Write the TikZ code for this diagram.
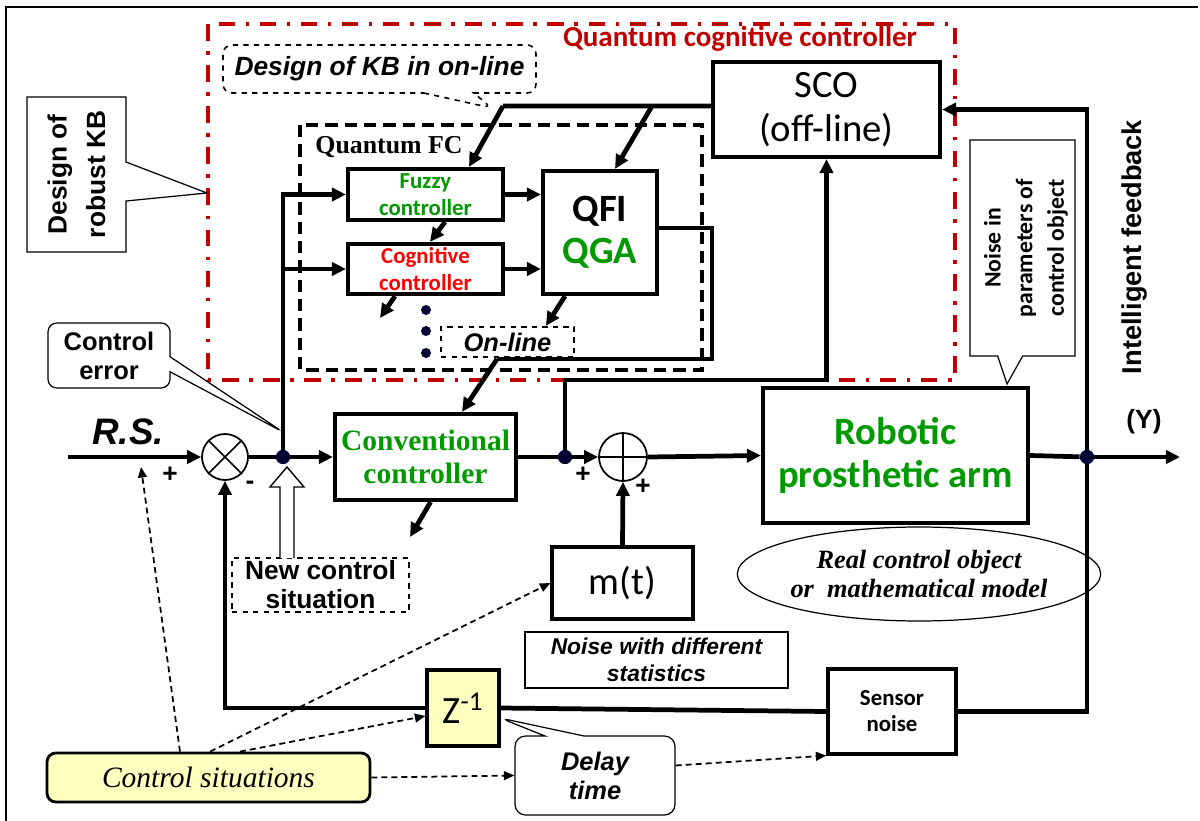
\documentclass[tikz,border=0pt]{standalone}
\usepackage{fontspec}
\setmainfont{Liberation Serif}
\newfontfamily\arialf{Liberation Sans}
\newfontfamily\calf{Carlito}
\usetikzlibrary{arrows.meta,shapes.geometric,shapes.callouts}
\definecolor{qred}{RGB}{192,0,0}
\definecolor{qgreen}{RGB}{0,153,0}
\definecolor{qyellow}{RGB}{255,255,192}
\definecolor{qnavy}{RGB}{0,0,51}
\newcommand{\setfs}[2]{\fontsize{#1}{#2}\selectfont}

\begin{document}
\begin{tikzpicture}[x=0.02cm,y=-0.02cm]
    \tikzstyle{blk}=[draw, line width=2.4pt, inner sep=0pt, align=center]
    \tikzstyle{note}=[draw, line width=0.7pt, inner sep=0pt, align=center]
    \tikzstyle{wire}=[line width=2.7pt]
    \tikzstyle{arr}=[line width=2.7pt, -{Triangle[length=8pt,width=7.5pt]}]
    \tikzstyle{darr}=[line width=1pt, dash pattern=on 3.4pt off 2.3pt, -{Triangle[length=6pt,width=5pt]}]
    \tikzstyle{jdot}=[circle, fill=qnavy, inner sep=0pt, minimum size=0.28cm]
    \tikzstyle{sign}=[font=\arialf\bfseries\setfs{15}{18}]

    \useasboundingbox (0,0) rectangle (1200,821);
    \draw[line width=0.8pt] (6,821) -- (6,7) -- (1198,7);

    \draw[qred, line width=2.3pt, dash pattern=on 9.4pt off 6pt on 2pt off 6pt] (208,24) rectangle (955,380);
    \draw[line width=2pt, dash pattern=on 7pt off 4pt] (300,125) rectangle (702,370);
    \node[text=qred, font=\calf\bfseries\setfs{16.5}{19}] (qcc) at (740,39) {Quantum cognitive controller};
    \node[font=\bfseries\setfs{14.7}{17}] (qfc) at (389,147) {Quantum FC};

    \node[blk, minimum width=3.1cm, minimum height=1.02cm, text=qgreen, font=\calf\bfseries\setfs{13}{15}] (fuzzy) at (425.5,194.5) {Fuzzy\\controller};
    \node[blk, minimum width=3.1cm, minimum height=1cm, text=red, font=\calf\bfseries\setfs{13}{15}] (cog) at (425.5,269) {Cognitive\\controller};
    \node[blk, minimum width=2.28cm, minimum height=2.46cm, font=\calf\bfseries\setfs{22}{24}] (qfi) at (600,232.5) {QFI\\\textcolor{qgreen}{QGA}};
    \node[blk, minimum width=4.54cm, minimum height=1.9cm, font=\calf\setfs{22}{25}] (sco) at (826.5,109.5) {SCO\\(off-line)};
    \node[draw, dashed, line width=1pt, minimum width=2.66cm, minimum height=0.56cm, font=\arialf\bfseries\itshape\setfs{14.5}{17}] (online) at (507.5,342) {On-line};
    \foreach \y in {310,331,353} \fill[qnavy] (426,\y) circle (0.1cm);

    \node[blk, minimum width=3.62cm, minimum height=1.72cm, text=qgreen, font=\bfseries\setfs{16.8}{19}] (conv) at (425.5,457) {Conventional\\controller};
    \node[blk, minimum width=5.3cm, minimum height=2.7cm, text=qgreen, font=\calf\bfseries\setfs{22}{24.5}] (arm) at (895.5,455.5) {Robotic\\prosthetic arm};
    \node[blk, line width=1.8pt, minimum width=2.82cm, minimum height=1.44cm, font=\calf\setfs{22}{25}] (mt) at (622.5,583) {m(t)};
    \node[note, minimum width=5.26cm, minimum height=1.12cm, font=\arialf\bfseries\itshape\setfs{13}{15}] (noisestat) at (656.5,660) {Noise with different\\statistics};
    \node[blk, line width=1.8pt, fill=qyellow, minimum width=1.44cm, minimum height=1.52cm, font=\calf\setfs{22}{25}] (zinv) at (463,708) {Z\textsuperscript{-1}};
    \node[blk, line width=1.8pt, minimum width=2.56cm, minimum height=1.7cm, font=\calf\bfseries\setfs{13}{14.7}] (sensor) at (892,711.5) {Sensor\\noise};
    \node[ellipse, draw, line width=0.7pt, minimum width=6.06cm, minimum height=1.88cm, inner sep=0pt, align=center, font=\bfseries\itshape\setfs{15}{17}] (objnote) at (919,574) {Real control object\\or \ mathematical model};

    \node[circle, draw, line width=1pt, minimum size=0.92cm] (mul) at (225,457) {};
    \draw[line width=1pt] (mul.north west) -- (mul.south east) (mul.north east) -- (mul.south west);
    \node[circle, draw, line width=1pt, minimum size=0.96cm] (sum) at (623,457) {};
    \draw[line width=1pt] (sum.north) -- (sum.south) (sum.west) -- (sum.east);
    \node[jdot] (jerr) at (283,457) {};
    \node[jdot] (jctl) at (565,457) {};
    \node[jdot] (jout) at (1087,457) {};

    \coordinate (rsin) at (68,457);
    \coordinate (yout) at (1180,457);
    \coordinate (qo1) at (712,359);
    \coordinate (qo2) at (497,359);
    \coordinate (so1) at (503,106);
    \coordinate (so2) at (652,106);
    \coordinate (rt) at (565,380);
    \coordinate (cogend) at (380,318);
    \coordinate (convend) at (410,537);
    \coordinate (rsmark) at (141,467);

    \draw[arr] (rsin) -- (mul.west);
    \draw[wire] (mul.east) -- (jerr);
    \draw[arr] (jerr) -- (conv.west);
    \draw[arr] (jerr) |- (fuzzy.west);
    \draw[arr] (jerr |- cog.west) -- (cog.west);
    \draw[arr] (fuzzy.east) -- (fuzzy.east -| qfi.west);
    \draw[arr] (cog.east) -- (cog.east -| qfi.west);
    \draw[arr] ([xshift=0.39cm]fuzzy.south) -- ([xshift=0.09cm]cog.north);
    \draw[arr] ([xshift=-0.61cm]cog.south) -- (cogend);
    \draw[arr] ([xshift=-0.7cm]qfi.south) -- ([xshift=-0.58cm]online.north east);
    \draw[wire] ([yshift=0.09cm]qfi.east) -| (qo1) -- (qo2);
    \draw[arr] (qo2) -- ([xshift=0.73cm]conv.north);
    \draw[wire] ([yshift=0.07cm]sco.west) -- (so1);
    \draw[arr] (so1) -- ([xshift=0.87cm]fuzzy.north);
    \draw[arr] (so2) -- ([xshift=0.3cm]qfi.north);
    \draw[wire] (conv.east) -- (jctl);
    \draw[arr] (jctl) -- (sum.west);
    \draw[arr] (jctl) -- (rt) -| (sco.south);
    \draw[arr] ([xshift=0.1cm]conv.south) -- (convend);
    \draw[arr] (sum.east) -- (arm.west);
    \draw[arr] (mt.north) -- (sum.south);
    \draw[wire] (arm.east) -- (jout);
    \draw[arr] (jout) -- (yout);
    \draw[arr] (jout) |- (sco.east);
    \draw[wire] (jout) |- (sensor.east);
    \draw[wire] (sensor.west) -- (zinv.east);
    \draw[arr] (zinv.west) -| (mul.south);
    \node[jdot] at (jerr) {};
    \node[jdot] at (jctl) {};
    \node[jdot] at (jout) {};

    \node[draw, dashed, line width=1pt, minimum width=3.54cm, minimum height=1.08cm, inner sep=0pt, align=center, font=\arialf\bfseries\setfs{15}{16.5}] (newsit) at (320.5,585) {New control\\situation};
    \draw[line width=0.8pt, fill=white] (280,558) -- (280,487) -- (270,487) -- (287,467) -- (304,487) -- (294,487) -- (294,558);

    \node[rectangle callout, draw, line width=0.7pt, rounded corners=5pt, minimum width=2.44cm, minimum height=1.3cm, inner sep=0pt, align=center, callout absolute pointer={(283,432)}, callout pointer width=0.3cm, font=\arialf\bfseries\setfs{14.5}{16.5}] (ctrlerr) at (109,355.5) {Control\\error};
    \node[rectangle callout, draw, line width=0.7pt, minimum width=1.98cm, minimum height=3.1cm, callout absolute pointer={(207,193)}, callout pointer width=0.78cm] (robust) at (76.5,174.5) {};
    \node[rotate=90, align=center, font=\arialf\bfseries\setfs{15}{22}] at (robust.center) {Design of\\robust KB};
    \node[rectangle callout, draw, line width=0.7pt, minimum width=2.1cm, minimum height=4.32cm, callout absolute pointer={(1007,384)}, callout pointer width=0.5cm] (noisepar) at (1022.5,248) {};
    \node[rotate=90, align=center, font=\calf\bfseries\setfs{13.5}{18}] at ([xshift=0.07cm]noisepar.center) {Noise in\\parameters of\\control object};
    \node[rectangle callout, draw, dashed, line width=0.9pt, rounded corners=5pt, minimum width=6.26cm, minimum height=0.96cm, inner sep=0pt, callout absolute pointer={(492,108)}, callout pointer width=1cm, font=\arialf\bfseries\itshape\setfs{15}{17}] (kbonline) at (379.5,69) {Design of KB in on-line};
    \node[rectangle callout, draw, line width=0.7pt, rounded corners=6pt, minimum width=3.2cm, minimum height=1.58cm, inner sep=0pt, align=center, callout absolute pointer={(500,718)}, callout pointer width=0.78cm, font=\arialf\bfseries\itshape\setfs{14.5}{16.4}] (delay) at (595,775.5) {Delay\\time};
    \node[draw, line width=1.6pt, rounded corners=5pt, fill=qyellow, minimum width=6.46cm, minimum height=0.98cm, font=\itshape\setfs{16.8}{19}] (ctrlsit) at (208.5,777.5) {Control situations};

    \draw[darr] ([xshift=-0.57cm]ctrlsit.north) -- (rsmark);
    \draw[darr] ([xshift=0.03cm]ctrlsit.north) -- (mt.west);
    \draw[darr] ([xshift=0.63cm]ctrlsit.north) -- ([yshift=-0.16cm]zinv.west);
    \draw[darr] (ctrlsit.east) -- (delay.west);
    \draw[darr] ([yshift=0.2cm]delay.east) -- (sensor.south west);

    \node[font=\arialf\bfseries\itshape\setfs{21}{24}] (rs) at (128,432) {R.S.};
    \node[font=\arialf\bfseries\setfs{15}{18}] (ylab) at (1144,422) {(Y)};
    \node[rotate=90, font=\arialf\bfseries\setfs{15.5}{18}] (fb) at (1135,247) {Intelligent feedback};
    \node[sign] (p1) at (170,475) {+};
    \node[sign] (m1) at (250,485) {-};
    \node[sign] (p2) at (583,475) {+};
    \node[sign] (p3) at (643,487) {+};
\end{tikzpicture}
\end{document}
